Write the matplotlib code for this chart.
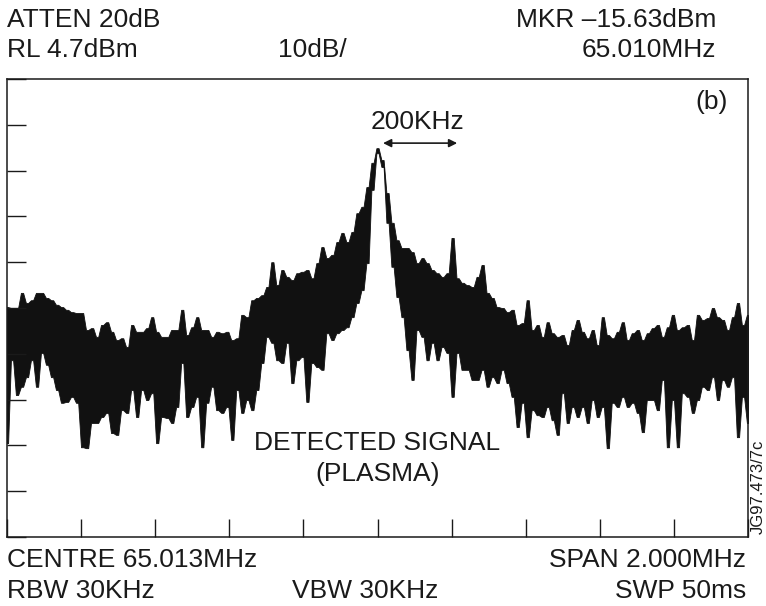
import numpy as np
from matplotlib import pyplot as plt
from matplotlib.ticker import MultipleLocator

# analyser settings
ref_level = 4.7        # dBm, top of screen
db_per_div = 10
centre = 65.013        # MHz
span = 2.0             # MHz

# trace, one column every ~13.5 kHz: upper and lower edge (dBm)
trace_hi = [
    -45.1, -45.3, -45.3, -42.0, -44.2, -43.6, -42.0, -42.0, -43.1, -43.6,
    -44.6, -45.1, -45.7, -46.2, -46.4, -46.4, -50.1, -49.7, -51.6, -49.0,
    -48.4, -50.5, -52.3, -51.9, -53.8,
    -49.0, -50.5, -50.5, -49.7, -47.3, -50.5, -51.6, -51.6, -50.1, -50.1,
    -45.7, -51.2, -49.5, -47.3, -50.1, -50.1, -51.6, -50.5, -50.8, -50.5,
    -52.3, -51.9, -46.8, -47.3, -43.6,
    -43.1, -42.5, -40.7, -35.3, -40.3, -37.0, -38.5, -39.2, -37.7, -37.4,
    -37.0, -38.8, -35.5, -32.0, -34.4, -33.7, -30.9, -28.9, -30.9, -28.7,
    -24.6, -23.2, -18.9, -13.6, -10.4,
    -13.0, -20.2, -26.7, -30.5, -32.2, -32.2, -33.1, -35.5, -34.4, -35.5,
    -37.0, -37.7, -38.5, -37.7, -30.0, -38.8, -39.8, -40.3, -40.7, -38.5,
    -35.9, -42.0, -43.1, -45.1, -45.3,
    -46.2, -45.7, -49.0, -48.6, -43.6, -50.1, -49.0, -51.6, -48.4, -50.8,
    -51.6, -51.2, -53.4, -50.1, -47.9, -50.5, -51.9, -50.1, -53.4, -47.3,
    -51.2, -51.9, -50.5, -48.4, -52.3,
    -50.8, -50.1, -52.3, -50.8, -49.7, -49.0, -51.6, -49.5, -46.8, -50.1,
    -49.5, -49.0, -52.3, -46.8, -47.9, -47.5, -45.3, -47.3, -47.9, -50.1,
    -47.3, -44.2, -49.0, -46.8,
]
trace_lo = [
    -74.8, -56.7, -64.3, -62.5, -60.4, -56.7, -62.5, -55.1, -57.7, -60.4,
    -63.2, -66.0, -65.8, -64.7, -66.0, -75.7, -75.9, -70.4, -70.4, -69.1,
    -68.2, -72.6, -73.0, -67.6, -68.2,
    -63.2, -69.1, -63.2, -65.4, -63.9, -74.8, -69.1, -69.3, -70.4, -66.9,
    -57.3, -69.1, -66.9, -64.7, -75.7, -66.0, -62.5, -67.6, -68.2, -66.9,
    -74.1, -63.2, -68.2, -65.4, -67.6,
    -63.2, -57.3, -51.6, -52.9, -56.7, -57.3, -52.9, -61.7, -56.7, -56.0,
    -65.8, -57.3, -58.2, -58.8, -50.8, -52.3, -50.8, -50.1, -49.5, -47.3,
    -44.2, -41.4, -35.5, -19.5, -11.5,
    -14.5, -26.7, -36.3, -42.9, -47.3, -54.5, -61.0, -50.1, -51.6, -56.7,
    -52.9, -56.7, -53.8, -55.1, -64.7, -55.1, -58.8, -58.8, -61.0, -61.0,
    -58.8, -62.5, -60.4, -61.7, -58.8,
    -61.7, -64.7, -71.3, -66.0, -73.5, -67.6, -68.7, -69.1, -66.9, -69.8,
    -73.0, -63.9, -70.4, -66.9, -69.1, -66.9, -70.4, -65.4, -69.1, -66.9,
    -75.9, -66.0, -66.9, -64.7, -66.9,
    -66.0, -68.2, -72.4, -65.4, -65.4, -67.6, -61.0, -75.7, -65.4, -75.7,
    -63.9, -64.7, -68.2, -65.4, -62.5, -63.2, -60.4, -65.4, -61.0, -62.5,
    -60.4, -73.5, -64.7, -70.4,
]

header_left = ["ATTEN 20dB", "RL 4.7dBm"]
header_right = ["MKR \u201315.63dBm", "65.010MHz"]
footer_left = ["CENTRE 65.013MHz", "RBW 30KHz"]
footer_right = ["SPAN 2.000MHz", "SWP 50ms"]

plt.rcParams['font.family'] = ['Liberation Sans', 'DejaVu Sans']
ink = '#1a1a1a'
fs = 19

fig = plt.figure(figsize=(7.66, 6.06), dpi=100)
ax = fig.add_axes([7 / 766, 69 / 606, 741 / 766, 458 / 606])

f_lo = centre - span / 2
f_hi = centre + span / 2
ax.set_xlim(f_lo, f_hi)
ax.set_ylim(ref_level - 10 * db_per_div, ref_level)

freq = np.linspace(f_lo, f_hi, len(trace_hi))
hi = np.array(trace_hi)
lo = np.array(trace_lo)

# each column gets a short flat top so the excursions read as narrow spikes
half = 0.22 * (freq[1] - freq[0])
xs = np.column_stack([freq - half, freq + half]).ravel()
ax.fill_between(xs, np.repeat(lo, 2), np.repeat(hi, 2),
                color='#111111', lw=0.6, edgecolor='#111111')

# graticule ticks
ax.xaxis.set_major_locator(MultipleLocator(span / 10, offset=f_lo))
ax.yaxis.set_major_locator(MultipleLocator(db_per_div, offset=ref_level))
ax.tick_params(axis='x', direction='in', length=13, width=1.0, color=ink,
               bottom=True, top=False, labelbottom=False)
ax.tick_params(axis='y', direction='in', length=13.5, width=1.0, color=ink,
               left=True, right=False, labelleft=False)
for s in ax.spines.values():
    s.set_linewidth(1.1)
    s.set_color(ink)

# annotations inside the screen
ax.annotate('', xy=(centre + 0.015, -9.3), xytext=(centre + 0.215, -9.3),
            arrowprops=dict(arrowstyle='<|-|>', color=ink, lw=1.2,
                            mutation_scale=12, shrinkA=0, shrinkB=0))
ax.text(centre + 0.109, -4.6, "200KHz", ha='center', va='center',
        fontsize=fs, color=ink)
ax.text(centre, -74.8, "DETECTED SIGNAL", ha='center', va='center',
        fontsize=fs, color=ink)
ax.text(centre, -81.6, "(PLASMA)", ha='center', va='center',
        fontsize=fs, color=ink)
ax.text(0.973, 0.95, "(b)", ha='right', va='center', fontsize=fs,
        color=ink, transform=ax.transAxes)

# readouts above and below the screen
W, H = 766, 606
for txt, yb in zip(header_left, [27, 57]):
    fig.text(7 / W, 1 - yb / H, txt, ha='left', va='baseline', fontsize=fs, color=ink)
for txt, yb in zip(header_right, [27, 57]):
    fig.text(716 / W, 1 - yb / H, txt, ha='right', va='baseline', fontsize=fs, color=ink)
fig.text(278 / W, 1 - 57 / H, "10dB/", ha='left', va='baseline', fontsize=fs, color=ink)

for txt, yb in zip(footer_left, [567, 598]):
    fig.text(7 / W, 1 - yb / H, txt, ha='left', va='baseline', fontsize=fs, color=ink)
for txt, yb in zip(footer_right, [567, 598]):
    fig.text(746 / W, 1 - yb / H, txt, ha='right', va='baseline', fontsize=fs, color=ink)
fig.text(292 / W, 1 - 598 / H, "VBW 30KHz", ha='left', va='baseline', fontsize=fs, color=ink)

fig.text(758 / W, 1 - 487 / H, "JG97.473/7c", rotation=90, ha='center', va='center',
         fontsize=12, color=ink)

plt.savefig('out.png', dpi=100)
